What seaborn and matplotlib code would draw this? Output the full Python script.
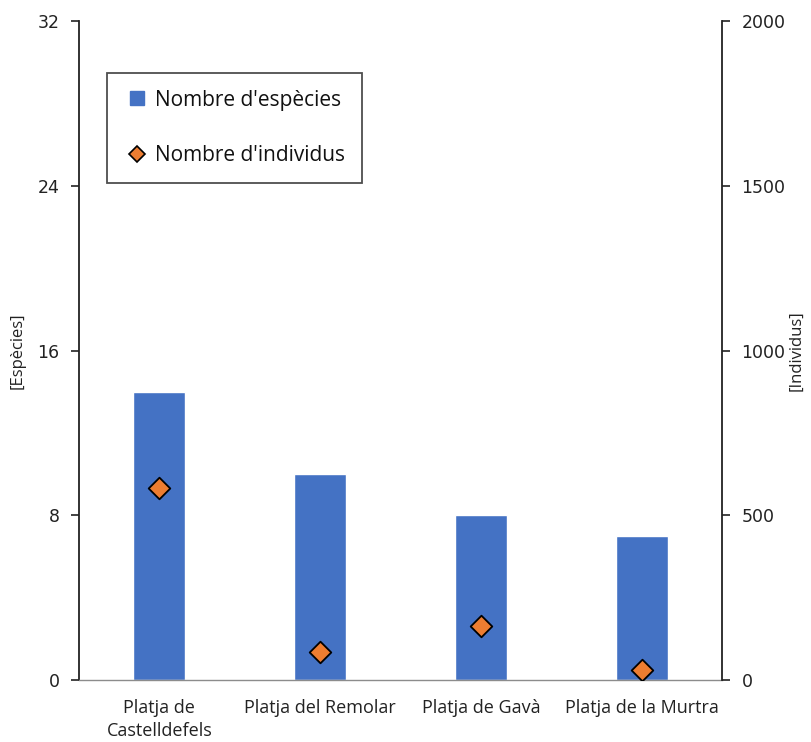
import matplotlib
matplotlib.use("Agg")
import matplotlib.pyplot as plt
import seaborn as sns
import pandas as pd
from matplotlib.lines import Line2D

categories = ["Platja de\nCastelldefels", "Platja del Remolar", "Platja de Gavà", "Platja de la Murtra"]
especies = [14, 10, 8, 7]
individus = [582, 85, 164, 30]
left_ticks = [0, 8, 16, 24, 32]
right_ticks = [0, 500, 1000, 1500, 2000]

sns.set_theme(style="white")
plt.rcParams['font.family'] = ['Open Sans', 'DejaVu Sans']

df = pd.DataFrame({"platja": categories, "especies": especies, "individus": individus})

fig = plt.figure(figsize=(8.11, 7.42), dpi=100)
ax = fig.add_axes([79/811, 62/742, (722-79)/811, (680-21)/742])

bar_col = "#4472C4"
dia_col = "#ED7D31"

sns.barplot(data=df, x="platja", y="especies", color=bar_col, width=0.325,
            saturation=1, ax=ax, order=categories)
ax.set_ylim(0, 32)
ax.set_yticks(left_ticks)
ax.set_xlim(-0.5, 3.5)

ax2 = ax.twinx()
sns.stripplot(data=df, x="platja", y="individus", order=categories, jitter=False,
              marker="D", size=11, color=dia_col, edgecolor="black", linewidth=1.3,
              ax=ax2, zorder=5)
ax2.set_ylim(0, 2000)
ax2.set_yticks(right_ticks)
ax2.set_xlim(-0.5, 3.5)

for a in (ax, ax2):
    a.set_xlabel("")
    for s in a.spines.values():
        s.set_visible(False)

ax.spines['left'].set_visible(True)
ax.spines['left'].set_color("#222222")
ax.spines['left'].set_linewidth(1.3)
ax.spines['bottom'].set_visible(True)
ax.spines['bottom'].set_color("#8c8c8c")
ax.spines['bottom'].set_linewidth(1.0)
ax2.spines['right'].set_visible(True)
ax2.spines['right'].set_color("#222222")
ax2.spines['right'].set_linewidth(1.3)

ax.tick_params(axis='y', which='both', left=True, direction='out', length=6, width=1.2,
               color="#222222", labelsize=12.5, labelcolor="#222222", pad=8)
ax2.tick_params(axis='y', which='both', right=True, direction='out', length=6, width=1.2,
                color="#222222", labelsize=12.5, labelcolor="#222222", pad=8)
for lab in ax.get_yticklabels() + ax2.get_yticklabels():
    lab.set_family("DejaVu Sans")
ax.tick_params(axis='x', bottom=False, labelsize=13, labelcolor="#222222", pad=8)
ax.set_xticks(range(len(categories)))
ax.set_xticklabels(categories, linespacing=1.3)

ax.set_ylabel("[Espècies]", fontsize=12, color="#222222")
ax2.set_ylabel("[Individus]", fontsize=12, color="#222222")
ax.yaxis.set_label_coords(-0.0824, 0.5)
ax2.yaxis.set_label_coords(1.104, 0.5)

handles = [
    Line2D([0], [0], marker='s', linestyle='none', markersize=10,
           markerfacecolor=bar_col, markeredgecolor=bar_col),
    Line2D([0], [0], marker='D', linestyle='none', markersize=8,
           markerfacecolor=dia_col, markeredgecolor='black', markeredgewidth=1.2),
]
leg = ax2.legend(handles, ["Nombre d'espècies", "Nombre d'individus"],
                 loc='upper left', bbox_to_anchor=(0.0435, 0.921), borderaxespad=0,
                 frameon=True, fancybox=False, edgecolor="#222222", fontsize=15,
                 labelspacing=1.65, borderpad=0.8, handletextpad=0.2, handlelength=1.3)
leg.get_frame().set_linewidth(1.3)
for t in leg.get_texts():
    t.set_color("#111111")

fig.savefig("out.png", dpi=100, facecolor="white")
